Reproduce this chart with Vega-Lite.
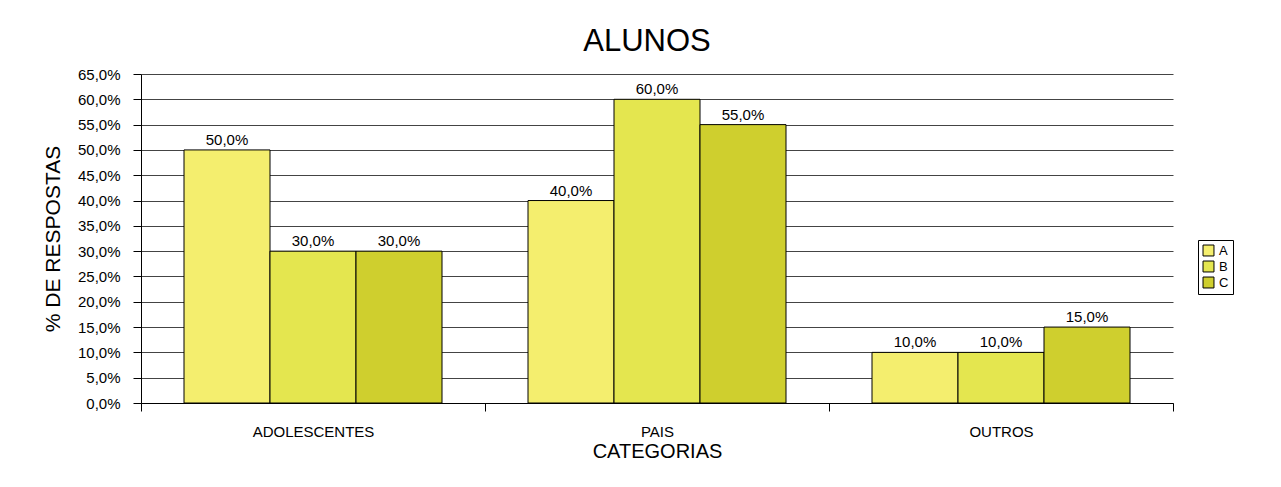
{
  "$schema": "https://vega.github.io/schema/vega-lite/v6.json",
  "autosize": "none",
  "width": 1032,
  "height": 329,
  "padding": {"left": 141, "top": 74, "right": 108, "bottom": 84},
  "background": "white",
  "config": {
    "font": "Liberation Sans",
    "locale": {"number": {"decimal": ",", "thousands": ".", "grouping": [3], "currency": ["R$", ""]}},
    "view": {"stroke": null},
    "axis": {"labelFont": "Liberation Sans", "titleFont": "Liberation Sans", "labelColor": "black", "titleColor": "black", "titleFontWeight": "normal"}
  },
  "title": {"text": "ALUNOS", "fontSize": 31, "fontWeight": "normal", "font": "Liberation Sans", "color": "black", "anchor": "middle", "offset": 9, "dx": -10},
  "data": {
    "values": [
      {"categoria": "ADOLESCENTES", "serie": "A", "valor": 0.50},
      {"categoria": "ADOLESCENTES", "serie": "B", "valor": 0.30},
      {"categoria": "ADOLESCENTES", "serie": "C", "valor": 0.30},
      {"categoria": "PAIS", "serie": "A", "valor": 0.40},
      {"categoria": "PAIS", "serie": "B", "valor": 0.60},
      {"categoria": "PAIS", "serie": "C", "valor": 0.55},
      {"categoria": "OUTROS", "serie": "A", "valor": 0.10},
      {"categoria": "OUTROS", "serie": "B", "valor": 0.10},
      {"categoria": "OUTROS", "serie": "C", "valor": 0.15}
    ]
  },
  "encoding": {
    "x": {
      "field": "categoria", "type": "nominal", "sort": ["ADOLESCENTES", "PAIS", "OUTROS"],
      "scale": {"paddingInner": 0, "paddingOuter": 0},
      "axis": {"title": "CATEGORIAS", "titleFontSize": 20, "titlePadding": 2, "labelAngle": 0, "labelFontSize": 15, "labelPadding": 13, "tickBand": "extent", "tickSize": 8, "tickColor": "black", "domainColor": "black", "grid": false}
    },
    "xOffset": {"field": "serie", "type": "nominal", "scale": {"paddingInner": 0, "paddingOuter": 0.5}},
    "y": {
      "field": "valor", "type": "quantitative",
      "scale": {"domain": [0, 0.65], "nice": false},
      "axis": {"title": "% DE RESPOSTAS", "titleFontSize": 21, "titlePadding": 14, "format": ".1%", "values": [0, 0.05, 0.1, 0.15, 0.2, 0.25, 0.3, 0.35, 0.4, 0.45, 0.5, 0.55, 0.6, 0.65], "labelFontSize": 15, "labelPadding": 13, "tickSize": 8, "tickColor": "black", "domainColor": "black", "gridColor": "#444444", "gridOpacity": 1}
    }
  },
  "layer": [
    {
      "mark": {"type": "bar", "stroke": "black", "strokeWidth": 1},
      "encoding": {
        "color": {
          "field": "serie", "type": "nominal",
          "scale": {"domain": ["A", "B", "C"], "range": ["#F4EE6E", "#E4E64F", "#CFCF2E"]},
          "legend": {"title": null, "orient": "none", "legendX": 1057, "legendY": 166, "strokeColor": "black", "padding": 4, "symbolType": "square", "symbolSize": 120, "symbolStrokeColor": "black", "symbolStrokeWidth": 1, "labelFontSize": 13, "rowPadding": 1, "labelOffset": 4}
        }
      }
    },
    {
      "mark": {"type": "text", "baseline": "bottom", "dy": -2, "fontSize": 15, "color": "black"},
      "encoding": {"text": {"field": "valor", "type": "quantitative", "format": ".1%"}}
    }
  ]
}
